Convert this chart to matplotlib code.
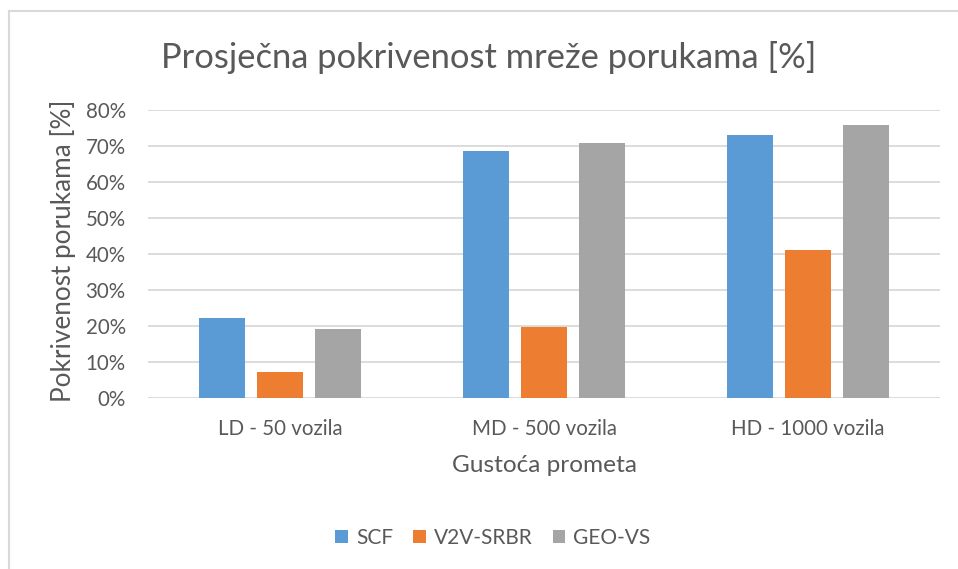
import matplotlib
matplotlib.use("Agg")
import matplotlib.pyplot as plt
import numpy as np
from matplotlib.lines import Line2D
from matplotlib.ticker import PercentFormatter

# Message coverage per traffic density (fraction of network)
categories = ["LD - 50 vozila", "MD - 500 vozila", "HD - 1000 vozila"]
series_names = ["SCF", "V2V-SRBR", "GEO-VS"]
scf = [0.221, 0.685, 0.730]
v2v_srbr = [0.073, 0.197, 0.412]
geo_vs = [0.191, 0.708, 0.757]
y_ticks = [0.0, 0.1, 0.2, 0.3, 0.4, 0.5, 0.6, 0.7, 0.8]

colors = ["#5B9BD5", "#ED7D31", "#A5A5A5"]
text_color = "#595959"
grid_color = "#D9D9D9"

plt.rcParams["font.family"] = ["Lato", "DejaVu Sans"]

W, H = 958, 569
fig = plt.figure(figsize=(W / 100, H / 100), dpi=100)
ax = fig.add_axes([148 / W, 1 - 398 / H, (940 - 148) / W, (398 - 110) / H])

x = np.arange(len(categories))
bar_w = 0.174
step = 0.22
for i, (vals, name) in enumerate(zip([scf, v2v_srbr, geo_vs], series_names)):
    ax.bar(x + (i - 1) * step, vals, width=bar_w, color=colors[i], label=name,
           zorder=3, edgecolor="none")

ax.set_xlim(-0.5, len(categories) - 0.5)
ax.set_ylim(0, 0.8)
ax.set_yticks(y_ticks)
ax.yaxis.set_major_formatter(PercentFormatter(1.0, decimals=0))
ax.set_xticks(x)
ax.set_xticklabels(categories)
ax.tick_params(axis="both", length=0, colors=text_color, labelsize=14.8)
ax.tick_params(axis="y", pad=16)
ax.tick_params(axis="x", pad=15)
ax.yaxis.grid(True, color=grid_color, linewidth=1.3, zorder=0)
ax.set_axisbelow(True)
for s in ax.spines.values():
    s.set_visible(False)

# titles
fig.text(489 / W, 1 - 57 / H, "Prosječna pokrivenost mreže porukama [%]",
         ha="center", va="center", fontsize=24.8, color=text_color)
fig.text(63 / W, 1 - 251 / H, "Pokrivenost porukama [%]", rotation=90,
         ha="center", va="center", fontsize=18.8, color=text_color)
fig.text(544 / W, 1 - 466 / H, "Gustoća prometa", ha="center", va="center",
         fontsize=17.6, color=text_color)

leg = fig.legend(loc="center", bbox_to_anchor=(493 / W, 1 - 538 / H), ncol=3,
                 frameon=False, fontsize=15, handlelength=0.6,
                 handleheight=0.6, handletextpad=0.4, columnspacing=0.95)
for t in leg.get_texts():
    t.set_color(text_color)

# chart area frame
fig.add_artist(Line2D([9 / W, 1], [1 - 11 / H, 1 - 11 / H], color=grid_color,
                      linewidth=1.5, transform=fig.transFigure))
fig.add_artist(Line2D([9 / W, 9 / W], [1 - 11 / H, 0], color=grid_color,
                      linewidth=1.5, transform=fig.transFigure))

fig.savefig("out.png", dpi=100, facecolor="white")
